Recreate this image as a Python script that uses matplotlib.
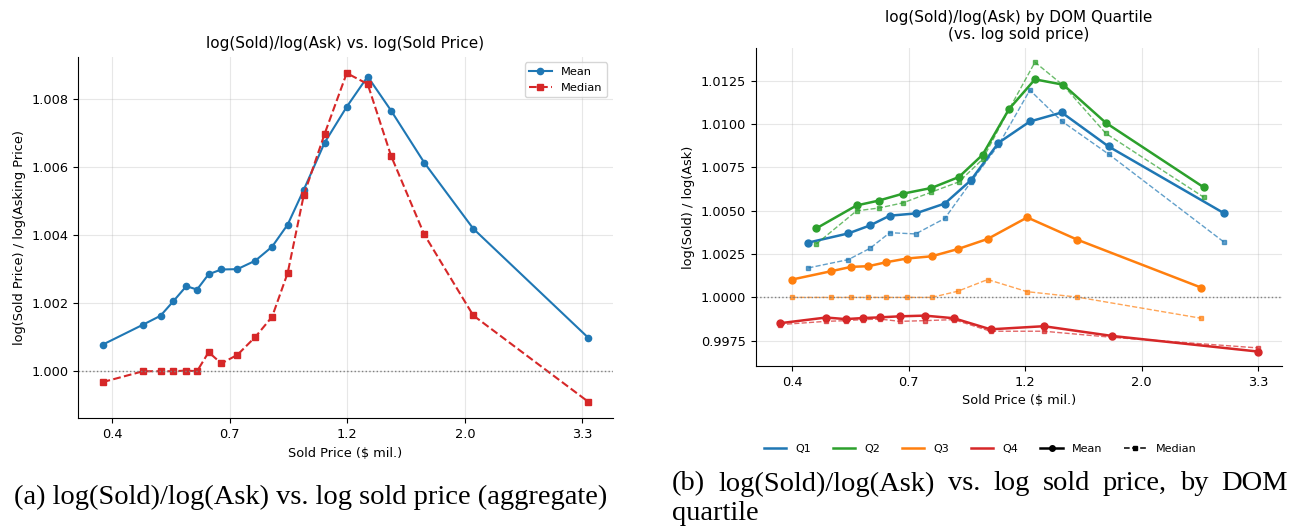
import numpy as np
import matplotlib
matplotlib.use("Agg")
import matplotlib.pyplot as plt
from matplotlib.lines import Line2D

# x values are ln(sold price in $ mil.)
agg_log_price = [-0.960, -0.778, -0.700, -0.642, -0.584, -0.536, -0.484, -0.427, -0.355, -0.274,
                 -0.199, -0.129, -0.057, 0.037, 0.136, 0.230, 0.335, 0.484, 0.704, 1.221]
agg_mean = [1.00078, 1.00137, 1.00163, 1.00206, 1.00250, 1.00240, 1.00285, 1.00299, 1.00300, 1.00325,
            1.00366, 1.00431, 1.00533, 1.00672, 1.00777, 1.00866, 1.00766, 1.00613, 1.00419, 1.00098]
agg_median = [0.99968, 1.00000, 1.00000, 1.00000, 1.00002, 1.00000, 1.00056, 1.00023, 1.00048, 1.00101,
              1.00160, 1.00289, 1.00517, 1.00698, 1.00876, 1.00844, 1.00633, 1.00402, 1.00164, 0.99910]

q1_x = [-0.842, -0.661, -0.563, -0.474, -0.357, -0.225, -0.107, 0.018, 0.160, 0.304, 0.516, 1.040]
q1_mean = [1.00316, 1.00369, 1.00415, 1.00471, 1.00484, 1.00541, 1.00675, 1.00891, 1.01014, 1.01066, 1.00870, 1.00484]
q1_median = [1.00170, 1.00218, 1.00283, 1.00373, 1.00366, 1.00455, 1.00664, 1.00878, 1.01195, 1.01016, 1.00826, 1.00317]

q2_x = [-0.806, -0.624, -0.524, -0.414, -0.285, -0.161, -0.054, 0.066, 0.183, 0.311, 0.504, 0.946]
q2_mean = [1.00398, 1.00530, 1.00558, 1.00598, 1.00631, 1.00694, 1.00822, 1.01086, 1.01257, 1.01226, 1.01006, 1.00635]
q2_median = [1.00308, 1.00499, 1.00515, 1.00545, 1.00607, 1.00666, 1.00796, 1.01084, 1.01356, 1.01222, 1.00945, 1.00578]

q3_x = [-0.916, -0.739, -0.649, -0.570, -0.489, -0.397, -0.284, -0.165, -0.031, 0.148, 0.374, 0.934]
q3_mean = [1.00103, 1.00151, 1.00176, 1.00180, 1.00203, 1.00224, 1.00237, 1.00279, 1.00337, 1.00461, 1.00333, 1.00057]
q3_median = [1.00000, 1.00000, 1.00000, 1.00000, 1.00000, 1.00000, 1.00000, 1.00036, 1.00103, 1.00033, 1.00002, 0.99880]

q4_x = [-0.972, -0.762, -0.673, -0.595, -0.518, -0.428, -0.315, -0.184, -0.018, 0.223, 0.531, 1.191]
q4_mean = [0.99851, 0.99884, 0.99875, 0.99881, 0.99885, 0.99891, 0.99895, 0.99880, 0.99816, 0.99834, 0.99778, 0.99688]
q4_median = [0.99843, 0.99862, 0.99866, 0.99872, 0.99875, 0.99862, 0.99866, 0.99872, 0.99805, 0.99805, 0.99770, 0.99709]

quartiles = ["Q1", "Q2", "Q3", "Q4"]
q_colors = ["tab:blue", "tab:green", "tab:orange", "tab:red"]
price_labels = ["0.4", "0.7", "1.2", "2.0", "3.3"]

caption_a = "(a) log(Sold)/log(Ask) vs. log sold price (aggregate)"
caption_b1 = "(b) log(Sold)/log(Ask) vs. log sold price, by DOM"
caption_b2 = "quartile"

W, H = 1291, 529
plt.rcParams["font.size"] = 9.3
plt.rcParams["axes.titlesize"] = 11
fig = plt.figure(figsize=(W / 100, H / 100), dpi=100)

xticks = np.linspace(np.log(0.4), np.log(3.3), len(price_labels))

# ---- (a) aggregate ----
ax1 = fig.add_axes([78.3 / W, 1 - 418.3 / H, 534.4 / W, 361.6 / H])
ax1.plot(agg_log_price, agg_mean, "-o", color="tab:blue", lw=1.5, ms=4.5, label="Mean")
ax1.plot(agg_log_price, agg_median, "--s", color="tab:red", lw=1.5, ms=4.5, label="Median")
ax1.axhline(1.0, color="gray", ls=":", lw=1)
ax1.set_xticks(xticks)
ax1.set_xticklabels(price_labels)
ax1.set_yticks([1.000, 1.002, 1.004, 1.006, 1.008])
ax1.yaxis.set_major_formatter(plt.FormatStrFormatter("%.3f"))
ax1.set_title("log(Sold)/log(Ask) vs. log(Sold Price)")
ax1.set_xlabel("Sold Price ($ mil.)")
ax1.set_ylabel("log(Sold Price) / log(Asking Price)")
ax1.grid(True, alpha=0.3)
ax1.legend(loc="upper right", fontsize=8.2)
ax1.spines[["top", "right"]].set_visible(False)

# ---- (b) by DOM quartile ----
ax2 = fig.add_axes([755.7 / W, 1 - 366 / H, 526 / W, 318.3 / H])
series = [(q1_x, q1_mean, q1_median), (q2_x, q2_mean, q2_median),
          (q3_x, q3_mean, q3_median), (q4_x, q4_mean, q4_median)]
for (x, m, md), c in zip(series, q_colors):
    ax2.plot(x, m, "-o", color=c, lw=1.8, ms=5)
    ax2.plot(x, md, "--s", color=c, lw=1.0, ms=3.5, alpha=0.7)
ax2.axhline(1.0, color="gray", ls=":", lw=1)
ax2.set_xticks(xticks)
ax2.set_xticklabels(price_labels)
ax2.set_yticks(np.arange(0.9975, 1.0126, 0.0025))
ax2.yaxis.set_major_formatter(plt.FormatStrFormatter("%.4f"))
ax2.set_title("log(Sold)/log(Ask) by DOM Quartile\n(vs. log sold price)")
ax2.set_xlabel("Sold Price ($ mil.)")
ax2.set_ylabel("log(Sold) / log(Ask)")
ax2.grid(True, alpha=0.3)
ax2.spines[["top", "right"]].set_visible(False)

handles = [Line2D([], [], color=c, lw=1.8) for c in q_colors]
handles += [Line2D([], [], color="black", lw=1.8, marker="o", ms=4),
            Line2D([], [], color="black", lw=1.1, ls="--", marker="s", ms=3)]
fig.legend(handles, quartiles + ["Mean", "Median"], loc="center",
           bbox_to_anchor=(980 / W, 1 - 449 / H), ncol=6, frameon=False, fontsize=8)

# ---- captions ----
cap_font = dict(family="Liberation Serif", fontsize=20.5)
fig.text(311 / W, 1 - 497 / H, caption_a, ha="center", va="center", **cap_font)

# justify first line of caption (b)
words = caption_b1.split()
texts = [fig.text(0, 1 - 484 / H, w, ha="left", va="center", **cap_font) for w in words]
fig.canvas.draw()
renderer = fig.canvas.get_renderer()
widths = [t.get_window_extent(renderer).width for t in texts]
x0, x1 = 672, 1288
gap = (x1 - x0 - sum(widths)) / (len(words) - 1)
pos = x0
for t, w in zip(texts, widths):
    t.set_x(pos / W)
    pos += w + gap
fig.text(x0 / W, 1 - 513 / H, caption_b2, ha="left", va="center", **cap_font)

fig.savefig("out.png", dpi=100)
